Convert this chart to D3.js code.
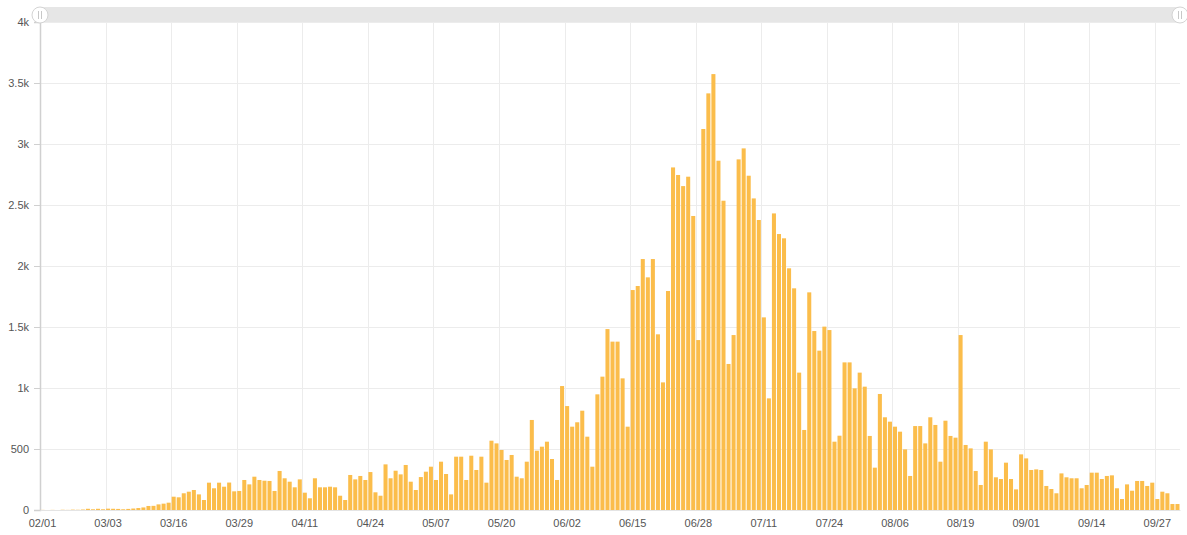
<!DOCTYPE html>
<html>
<head>
<meta charset="utf-8">
<script src="https://cdn.jsdelivr.net/npm/d3@7"></script>
<style>
  html, body { margin: 0; padding: 0; background: #fff; }
  svg { display: block; font-family: "Liberation Sans", Arial, sans-serif; }
</style>
</head>
<body>
<div id="chart"></div>
<script>
// categories: one lone day, then a continuous daily run
const firstDay = ['02/01']
const dailyDays = d3.timeDay.range(new Date(2020, 1, 20), new Date(2020, 9, 2)).map(d3.timeFormat('%m/%d'))
const dates = firstDay.concat(dailyDays)

// daily counts
const counts = [
  1, 0, 1, 0, 2, 1, 3, 2, 4, 10, 6, 10, 6,
  11, 10, 9, 6, 9, 12, 16, 21, 33, 34, 46, 52, 60,
  109, 104, 137, 150, 164, 128, 82, 224, 178, 224, 191, 225, 153,
  156, 246, 210, 273, 246, 240, 238, 156, 320, 260, 232, 186, 251,
  142, 96, 260, 186, 186, 191, 186, 117, 82, 287, 251, 279, 246,
  311, 145, 117, 374, 260, 322, 292, 369, 232, 164, 270, 314, 355,
  246, 396, 295, 128, 437, 437, 246, 445, 328, 437, 224, 568, 546,
  492, 410, 451, 273, 260, 396, 738, 486, 519, 560, 418, 246, 1016,
  852, 683, 719, 814, 601, 355, 948, 1093, 1483, 1380, 1380, 1079, 683,
  1803, 1836, 2057, 1907, 2057, 1440, 1046, 1795, 2808, 2746, 2655, 2732, 2410,
  1393, 3123, 3415, 3573, 2863, 2535, 1197, 1434, 2874, 2964, 2740, 2554, 2377,
  1579, 915, 2431, 2262, 2227, 1981, 1817, 1126, 656, 1784, 1467, 1306, 1503,
  1475, 560, 609, 1210, 1210, 997, 1126, 1011, 607, 347, 951, 760, 724,
  683, 642, 497, 279, 688, 688, 546, 760, 697, 396, 732, 607, 593,
  1434, 533, 505, 320, 205, 560, 497, 268, 254, 388, 254, 169, 456,
  423, 328, 333, 328, 197, 172, 137, 300, 268, 260, 260, 178, 205,
  306, 306, 254, 279, 284, 178, 90, 210, 158, 238, 238, 197, 224,
  90, 150, 137, 49, 49
]

const yTicks = [0, 500, 1000, 1500, 2000, 2500, 3000, 3500, 4000]
const labelEvery = 13

const data = dates.map((d, i) => ({ date: d, value: counts[i] }))

const width = 1187
const height = 535
const margin = { top: 22, right: 7, bottom: 25, left: 40 }

const svg = d3.select('#chart')
  .append('svg')
  .attr('width', width)
  .attr('height', height)

let x = d3.scaleBand()
  .domain(dates)
  .range([margin.left, width - margin.right])
  .paddingInner(0.2)
  .paddingOuter(0.1)

let y = d3.scaleLinear()
  .domain([0, 4000])
  .range([height - margin.bottom, margin.top])

const step = x.step()
const bandStart = d => x(d) - step * 0.1
const tickDates = dates.filter((d, i) => i % labelEvery === 0)

// grid
svg.append('g')
  .selectAll('line')
  .data(yTicks)
  .enter()
  .append('line')
  .attr('x1', margin.left)
  .attr('x2', width - margin.right)
  .attr('y1', d => y(d) + 0.5)
  .attr('y2', d => y(d) + 0.5)
  .attr('stroke', '#ececec')

svg.append('g')
  .selectAll('line')
  .data(tickDates.slice(1))
  .enter()
  .append('line')
  .attr('x1', d => Math.round(bandStart(d)) + 0.5)
  .attr('x2', d => Math.round(bandStart(d)) + 0.5)
  .attr('y1', y(4000))
  .attr('y2', y(0))
  .attr('stroke', '#ececec')

// bars
svg.append('g')
  .selectAll('rect')
  .data(data)
  .enter()
  .append('rect')
  .attr('x', d => x(d.date))
  .attr('width', x.bandwidth())
  .attr('y', d => y(d.value))
  .attr('height', d => y(0) - y(d.value))
  .attr('fill', '#fbbd4b')

// y axis
const yAxis = svg.append('g')
  .attr('transform', `translate(${margin.left},0)`)
  .call(d3.axisLeft(y).tickValues(yTicks).tickSize(6).tickPadding(5)
    .tickFormat(d => d >= 1000 ? (d / 1000) + 'k' : d))

yAxis.select('.domain').attr('stroke', '#d0d0d0').attr('stroke-width', 1.5)
yAxis.selectAll('.tick line').attr('stroke', '#d0d0d0')
yAxis.selectAll('.tick text')
  .attr('fill', '#555')
  .style('font-size', '11px')

// x axis
const xAxis = svg.append('g')
  .attr('transform', `translate(0,${y(0)})`)
  .call(d3.axisBottom(x).tickValues(tickDates).tickSize(0).tickPadding(9))

xAxis.select('.domain').attr('stroke', '#e4e4e4')
xAxis.selectAll('.tick text')
  .attr('fill', '#555')
  .style('font-size', '11px')

// zoom slider on top
const slider = svg.append('g')

slider.append('rect')
  .attr('x', margin.left)
  .attr('y', 7)
  .attr('width', width - margin.right - margin.left)
  .attr('height', 15)
  .attr('fill', '#e6e6e6')

const handles = slider.selectAll('g.handle')
  .data([margin.left, width - margin.right])
  .enter()
  .append('g')
  .attr('class', 'handle')
  .attr('transform', d => `translate(${d},15)`)

handles.append('circle')
  .attr('r', 8)
  .attr('fill', '#fff')
  .attr('stroke', '#d4d4d4')

handles.selectAll('line')
  .data([-1.5, 1.5])
  .enter()
  .append('line')
  .attr('x1', d => d)
  .attr('x2', d => d)
  .attr('y1', -4)
  .attr('y2', 4)
  .attr('stroke', '#c8c8c8')
  .attr('stroke-width', 1)
</script>
</body>
</html>
